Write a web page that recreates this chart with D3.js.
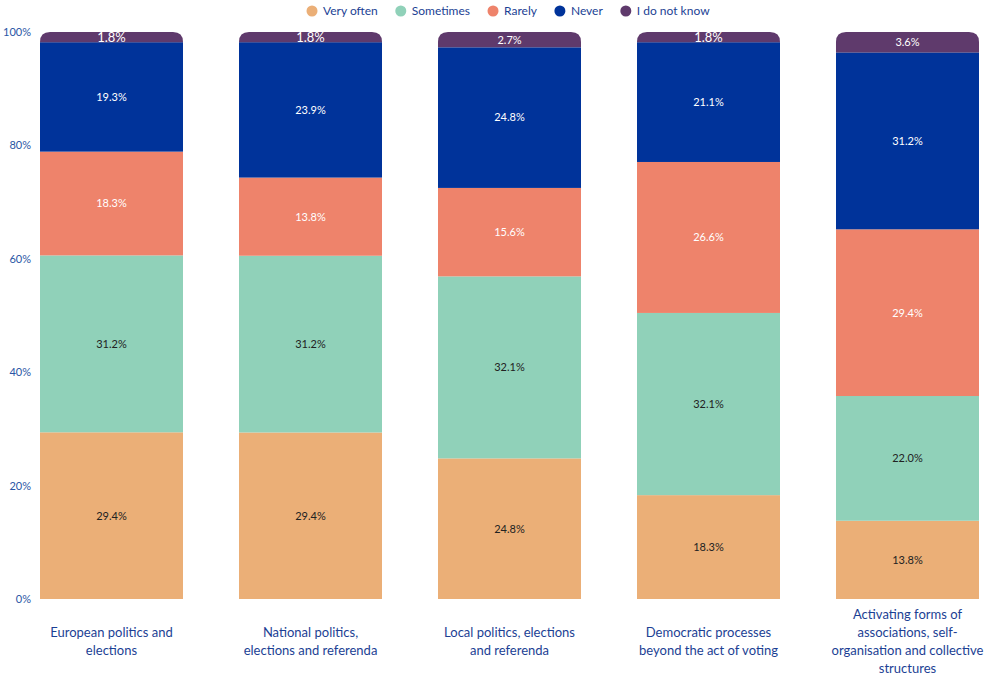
<!DOCTYPE html>
<html><head><meta charset="utf-8">
<script src="https://cdn.jsdelivr.net/npm/d3@7"></script>
<style>
html,body{margin:0;padding:0;background:#fff;}
svg{display:block;}
text{font-family:Lato,"Open Sans",sans-serif;}
</style></head>
<body>
<svg id="chart" width="985" height="675"></svg>
<script>
// "\n" marks where the category label breaks onto a new line
const categories = [
  "European politics and\nelections",
  "National politics,\nelections and referenda",
  "Local politics, elections\nand referenda",
  "Democratic processes\nbeyond the act of voting",
  "Activating forms of\nassociations, self-\norganisation and collective\nstructures"
];
const seriesNames = ["Very often", "Sometimes", "Rarely", "Never", "I do not know"];
const veryOften = [29.4, 29.4, 24.8, 18.3, 13.8];
const sometimes = [31.2, 31.2, 32.1, 32.1, 22.0];
const rarely    = [18.3, 13.8, 15.6, 26.6, 29.4];
const never     = [19.3, 23.9, 24.8, 21.1, 31.2];
const dontKnow  = [1.8, 1.8, 2.7, 1.8, 3.6];
const yTicks = [0, 0.2, 0.4, 0.6, 0.8, 1.0];

const colors = ["#EBAF77", "#90D1B9", "#EE836B", "#00339A", "#5F3A6C"];
const labelColors = ["#222", "#222", "#fff", "#fff", "#fff"];

const seriesValues = [veryOften, sometimes, rarely, never, dontKnow];
const table = categories.map((c, i) => {
  const row = {category: c};
  seriesNames.forEach((s, j) => row[s] = seriesValues[j][i]);
  return row;
});

const svg = d3.select("#chart");
const plotTop = 32, plotBottom = 599, plotLeft = 40, plotRight = 979;

const x = d3.scaleBand().domain(categories).range([plotLeft, plotRight]).paddingInner(0.2814).paddingOuter(0);
const y = d3.scaleLinear().domain([0, 1]).range([plotBottom, plotTop]);

const stack = d3.stack().keys(seriesNames).offset(d3.stackOffsetExpand);
const stacked = stack(table);

// y axis
const yAxis = d3.axisLeft(y).tickValues(yTicks).tickFormat(d3.format(".0%")).tickSize(0).tickPadding(9);
const ya = svg.append("g").attr("transform", `translate(${plotLeft},0)`).call(yAxis);
ya.select(".domain").remove();
ya.selectAll("text").attr("fill", "#2a56a5").style("font-family", "Lato, sans-serif").style("font-size", "11px");

function roundTopRect(x0, y0, w, h, r) {
  r = Math.min(r, h, w / 2);
  return `M${x0},${y0 + h}V${y0 + r}Q${x0},${y0} ${x0 + r},${y0}H${x0 + w - r}Q${x0 + w},${y0} ${x0 + w},${y0 + r}V${y0 + h}Z`;
}

const nS = stacked.length;
stacked.forEach((layer, li) => {
  const g = svg.append("g");
  layer.forEach((d, i) => {
    const x0 = x(d.data.category), w = x.bandwidth();
    const y0 = y(d[1]), y1 = y(d[0]);
    if (li === nS - 1) {
      g.append("path").attr("d", roundTopRect(x0, y0, w, y1 - y0, 10)).attr("fill", colors[li]);
    } else {
      g.append("rect").attr("x", x0).attr("y", y0).attr("width", w).attr("height", y1 - y0).attr("fill", colors[li]);
    }
  });
});
// value labels
stacked.forEach((layer, li) => {
  layer.forEach((d, i) => {
    const x0 = x(d.data.category), w = x.bandwidth();
    const y0 = y(d[1]), y1 = y(d[0]);
    const h = y1 - y0;
    const small = h < 12;
    svg.append("text")
      .attr("x", x0 + w / 2)
      .attr("y", (y0 + y1) / 2)
      .attr("dy", "0.35em")
      .attr("text-anchor", "middle")
      .attr("fill", labelColors[li])
      .style("font-size", small ? "13px" : "11px")
      .text(d3.format(".1f")(seriesValues[li][i]) + "%");
  });
});

// category labels
categories.forEach(c => {
  const lines = c.split("\n");
  const lh = 18, cy = 641.5;
  const t = svg.append("text").attr("text-anchor", "middle").attr("fill", "#1c3f94").style("font-size", "13px");
  lines.forEach((l, k) => {
    t.append("tspan").attr("x", x(c) + x.bandwidth() / 2)
      .attr("y", cy + (k - (lines.length - 1) / 2) * lh).attr("dy", "0.35em").text(l);
  });
});

// legend
const legend = svg.append("g");
let lx = 306;
seriesNames.forEach((s, i) => {
  legend.append("circle").attr("cx", lx + 6).attr("cy", 11).attr("r", 5.5).attr("fill", colors[i]);
  const t = legend.append("text").attr("x", lx + 17).attr("y", 11).attr("dy", "0.35em")
    .attr("fill", "#1c3f94").style("font-size", "12px").text(s);
  lx += 17 + t.node().getComputedTextLength() + 17;
});
</script>
</body></html>
